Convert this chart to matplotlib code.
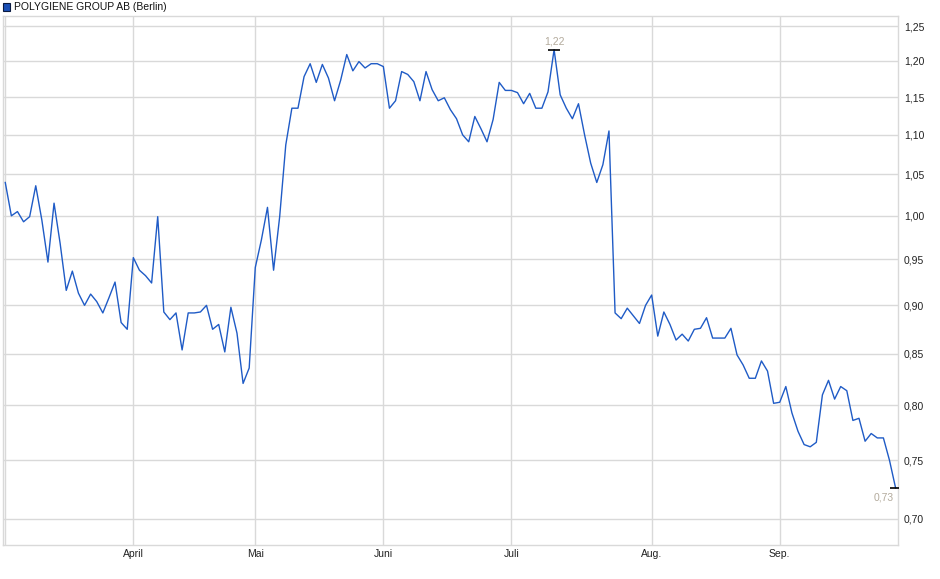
import matplotlib
matplotlib.use("Agg")
import matplotlib.pyplot as plt
import matplotlib.ticker as mticker
from matplotlib.patches import Rectangle
import pandas as pd

plt.rcParams["font.family"] = ["Liberation Sans", "DejaVu Sans"]

title = "POLYGIENE GROUP AB (Berlin)"

# daily closing prices (EUR), trading days 03.03.2025 - 26.09.2025
prices = [
    1.040, 1.000, 1.005, 0.993, 0.999, 1.036, 0.995, 0.947, 1.015, 0.968,
    0.916, 0.937, 0.913, 0.900, 0.912, 0.904, 0.892, 0.908, 0.925, 0.882,
    0.875, 0.952, 0.938, 0.932, 0.924, 0.999, 0.893, 0.885, 0.892, 0.854,
    0.892, 0.892, 0.893, 0.900, 0.875, 0.880, 0.852, 0.898, 0.871, 0.821,
    0.836, 0.941, 0.972, 1.010, 0.938, 0.999, 1.087, 1.135, 1.135, 1.178,
    1.196, 1.170, 1.195, 1.176, 1.145, 1.173, 1.209, 1.186, 1.199, 1.190,
    1.196, 1.196, 1.192, 1.135, 1.145, 1.185, 1.181, 1.171, 1.145, 1.185,
    1.160, 1.145, 1.149, 1.133, 1.121, 1.100, 1.091, 1.124, 1.108, 1.091,
    1.120, 1.170, 1.159, 1.159, 1.156, 1.141, 1.155, 1.135, 1.135, 1.157,
    1.216, 1.153, 1.135, 1.121, 1.141, 1.100, 1.064, 1.040, 1.062, 1.105,
    0.892, 0.886, 0.897, 0.889, 0.881, 0.900, 0.911, 0.868, 0.893, 0.880,
    0.864, 0.870, 0.863, 0.875, 0.876, 0.887, 0.866, 0.866, 0.866, 0.876,
    0.849, 0.839, 0.826, 0.826, 0.843, 0.833, 0.802, 0.803, 0.818, 0.793,
    0.776, 0.764, 0.762, 0.766, 0.810, 0.824, 0.806, 0.818, 0.814, 0.786,
    0.788, 0.767, 0.774, 0.770, 0.770, 0.750, 0.726,
]

holidays = ["2025-04-18", "2025-04-21", "2025-05-01"]
month_labels = ["April", "Mai", "Juni", "Juli", "Aug.", "Sep."]
y_ticks = [0.70, 0.75, 0.80, 0.85, 0.90, 0.95, 1.00, 1.05, 1.10, 1.15, 1.20, 1.25]

# trading calendar -> index positions of month starts
days = pd.bdate_range("2025-03-03", "2025-09-26")
days = days[~days.isin(pd.to_datetime(holidays))]
month_start = [i for i in range(1, len(days)) if days[i].month != days[i - 1].month]

x = list(range(len(prices)))
grid_col = "#d9d9d9"
line_col = "#1f5bc6"
note_col = "#b3aa9c"

fig = plt.figure(figsize=(9.4, 5.79), dpi=100)
ax = fig.add_axes([0.00287, 0.0582, 0.9528, 0.9142])

ax.plot(x, prices, color=line_col, lw=1.0, zorder=3)

ax.set_yscale("log")
ax.set_ylim(0.6786, 1.2651)
ax.set_xlim(-0.42, 146.45)

ax.yaxis.set_major_locator(mticker.FixedLocator(y_ticks))
ax.yaxis.set_minor_locator(mticker.NullLocator())
ax.yaxis.set_major_formatter(mticker.FuncFormatter(lambda v, p: f"{v:.2f}".replace(".", ",")))
ax.yaxis.tick_right()

ax.set_xticks(month_start)
ax.set_xticklabels(month_labels)
ax.tick_params(axis="both", length=0, labelsize=7.5, colors="#222222")
ax.tick_params(axis="y", pad=4)
ax.tick_params(axis="x", pad=3)

ax.grid(True, color=grid_col, lw=1.0, zorder=0)
ax.axvline(0, color=grid_col, lw=1.0, zorder=0)
for s in ax.spines.values():
    s.set_color(grid_col)
    s.set_linewidth(1.0)

# high / low markers
hi = prices.index(max(prices))
lo = prices.index(min(prices))
ax.plot([hi], [prices[hi]], marker="_", color="black", ms=9, mew=1.2, zorder=4)
ax.plot([lo], [prices[lo]], marker="_", color="black", ms=9, mew=1.2, zorder=4)
ax.annotate(f"{prices[hi]:.2f}".replace(".", ","), (hi, prices[hi]), xytext=(0, 2),
            textcoords="offset points", ha="center", va="bottom", fontsize=7.5, color=note_col)
ax.annotate(f"{prices[lo]:.2f}".replace(".", ","), (lo, prices[lo]), xytext=(-1, -3),
            textcoords="offset points", ha="right", va="top", fontsize=7.5, color=note_col)

# legend square + title
fig.patches.append(Rectangle((3 / 940, 1 - 10.5 / 579), 7 / 940, 7 / 579, transform=fig.transFigure,
                             facecolor="#1a4fb5", edgecolor="#0a1a40", lw=0.8))
fig.text(14 / 940, 1 - 7 / 579, title, fontsize=7.5, va="center", ha="left", color="#111111")

fig.savefig("out.png", dpi=100)
